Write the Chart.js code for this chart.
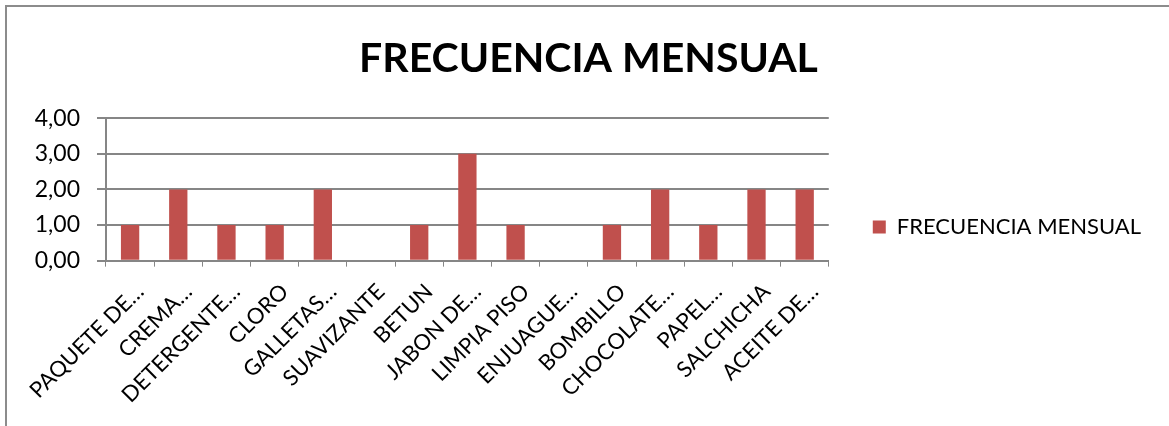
<!DOCTYPE html>
<html>
<head>
<meta charset="utf-8">
<script src="https://cdn.jsdelivr.net/npm/chart.js@4"></script>
<style>
  html, body { margin: 0; padding: 0; background: #fff; }
  #wrap { width: 1169px; height: 426px; position: relative; }
</style>
</head>
<body>
<div id="wrap"><canvas id="freqChart" width="1169" height="426"></canvas></div>
<script>
const categories = ['PAQUETE DE…', 'CREMA…', 'DETERGENTE…', 'CLORO', 'GALLETAS…', 'SUAVIZANTE', 'BETUN',
  'JABON DE…', 'LIMPIA PISO', 'ENJUAGUE…', 'BOMBILLO', 'CHOCOLATE…', 'PAPEL…', 'SALCHICHA', 'ACEITE DE…'];
const frecuencia = [1, 2, 1, 1, 2, 0, 1, 3, 1, 0, 1, 2, 1, 2, 2];
const yTicks = [0, 1, 2, 3, 4];

const gridGray = '#868686';
const fontFamily = 'Lato, "Open Sans", sans-serif';

// border of the chart frame (only top and left show in the picture)
const frameBorder = {
    id: 'frameBorder',
    beforeDraw(chart) {
        const ctx = chart.ctx;
        ctx.save();
        ctx.strokeStyle = '#8c8c8c';
        ctx.lineWidth = 2;
        ctx.beginPath();
        ctx.moveTo(6, 430);
        ctx.lineTo(6, 6);
        ctx.lineTo(1175, 6);
        ctx.stroke();
        ctx.restore();
    }
};

const ctx = document.getElementById('freqChart').getContext('2d');
const freqChart = new Chart(ctx, {
    type: 'bar',
    data: {
        labels: categories,
        datasets: [{
            label: 'FRECUENCIA MENSUAL',
            data: frecuencia,
            backgroundColor: '#C0504D',
            borderWidth: 0,
            barPercentage: 0.38,
            categoryPercentage: 1
        }]
    },
    options: {
        responsive: false,
        animation: false,
        layout: { padding: { left: 26, top: 34, right: 18, bottom: 6 } },
        plugins: {
            title: {
                display: true,
                text: 'FRECUENCIA MENSUAL',
                color: '#000',
                font: { family: fontFamily, size: 41, weight: 'bold' },
                padding: { top: 0, bottom: 35 }
            },
            legend: {
                position: 'right',
                maxWidth: 420,
                labels: {
                    color: '#000',
                    font: { family: fontFamily, size: 22 },
                    boxWidth: 13,
                    boxHeight: 13,
                    padding: 44
                }
            },
            tooltip: { enabled: false }
        },
        scales: {
            x: {
                // rotated labels should not push the plot area
                afterFit: axis => { axis.paddingLeft = 0; axis.paddingRight = 0; },
                grid: {
                    offset: true,
                    drawOnChartArea: false,
                    drawTicks: true,
                    tickLength: 6,
                    color: gridGray
                },
                border: { color: gridGray, width: 2 },
                ticks: {
                    color: '#000',
                    font: { family: fontFamily, size: 22 },
                    maxRotation: 45,
                    minRotation: 45,
                    autoSkip: false,
                    padding: 12,
                    labelOffset: 10
                }
            },
            y: {
                min: 0,
                max: 4,
                afterBuildTicks: axis => { axis.ticks = yTicks.map(v => ({ value: v })); },
                afterFit: axis => { axis.width = 80; },
                grid: { color: gridGray, lineWidth: 2, tickLength: 9 },
                border: { color: gridGray, width: 2 },
                ticks: {
                    color: '#000',
                    font: { family: fontFamily, size: 23 },
                    padding: 17,
                    callback: value => value.toFixed(2).replace('.', ',')
                }
            }
        }
    },
    plugins: [frameBorder]
});
</script>
</body>
</html>
